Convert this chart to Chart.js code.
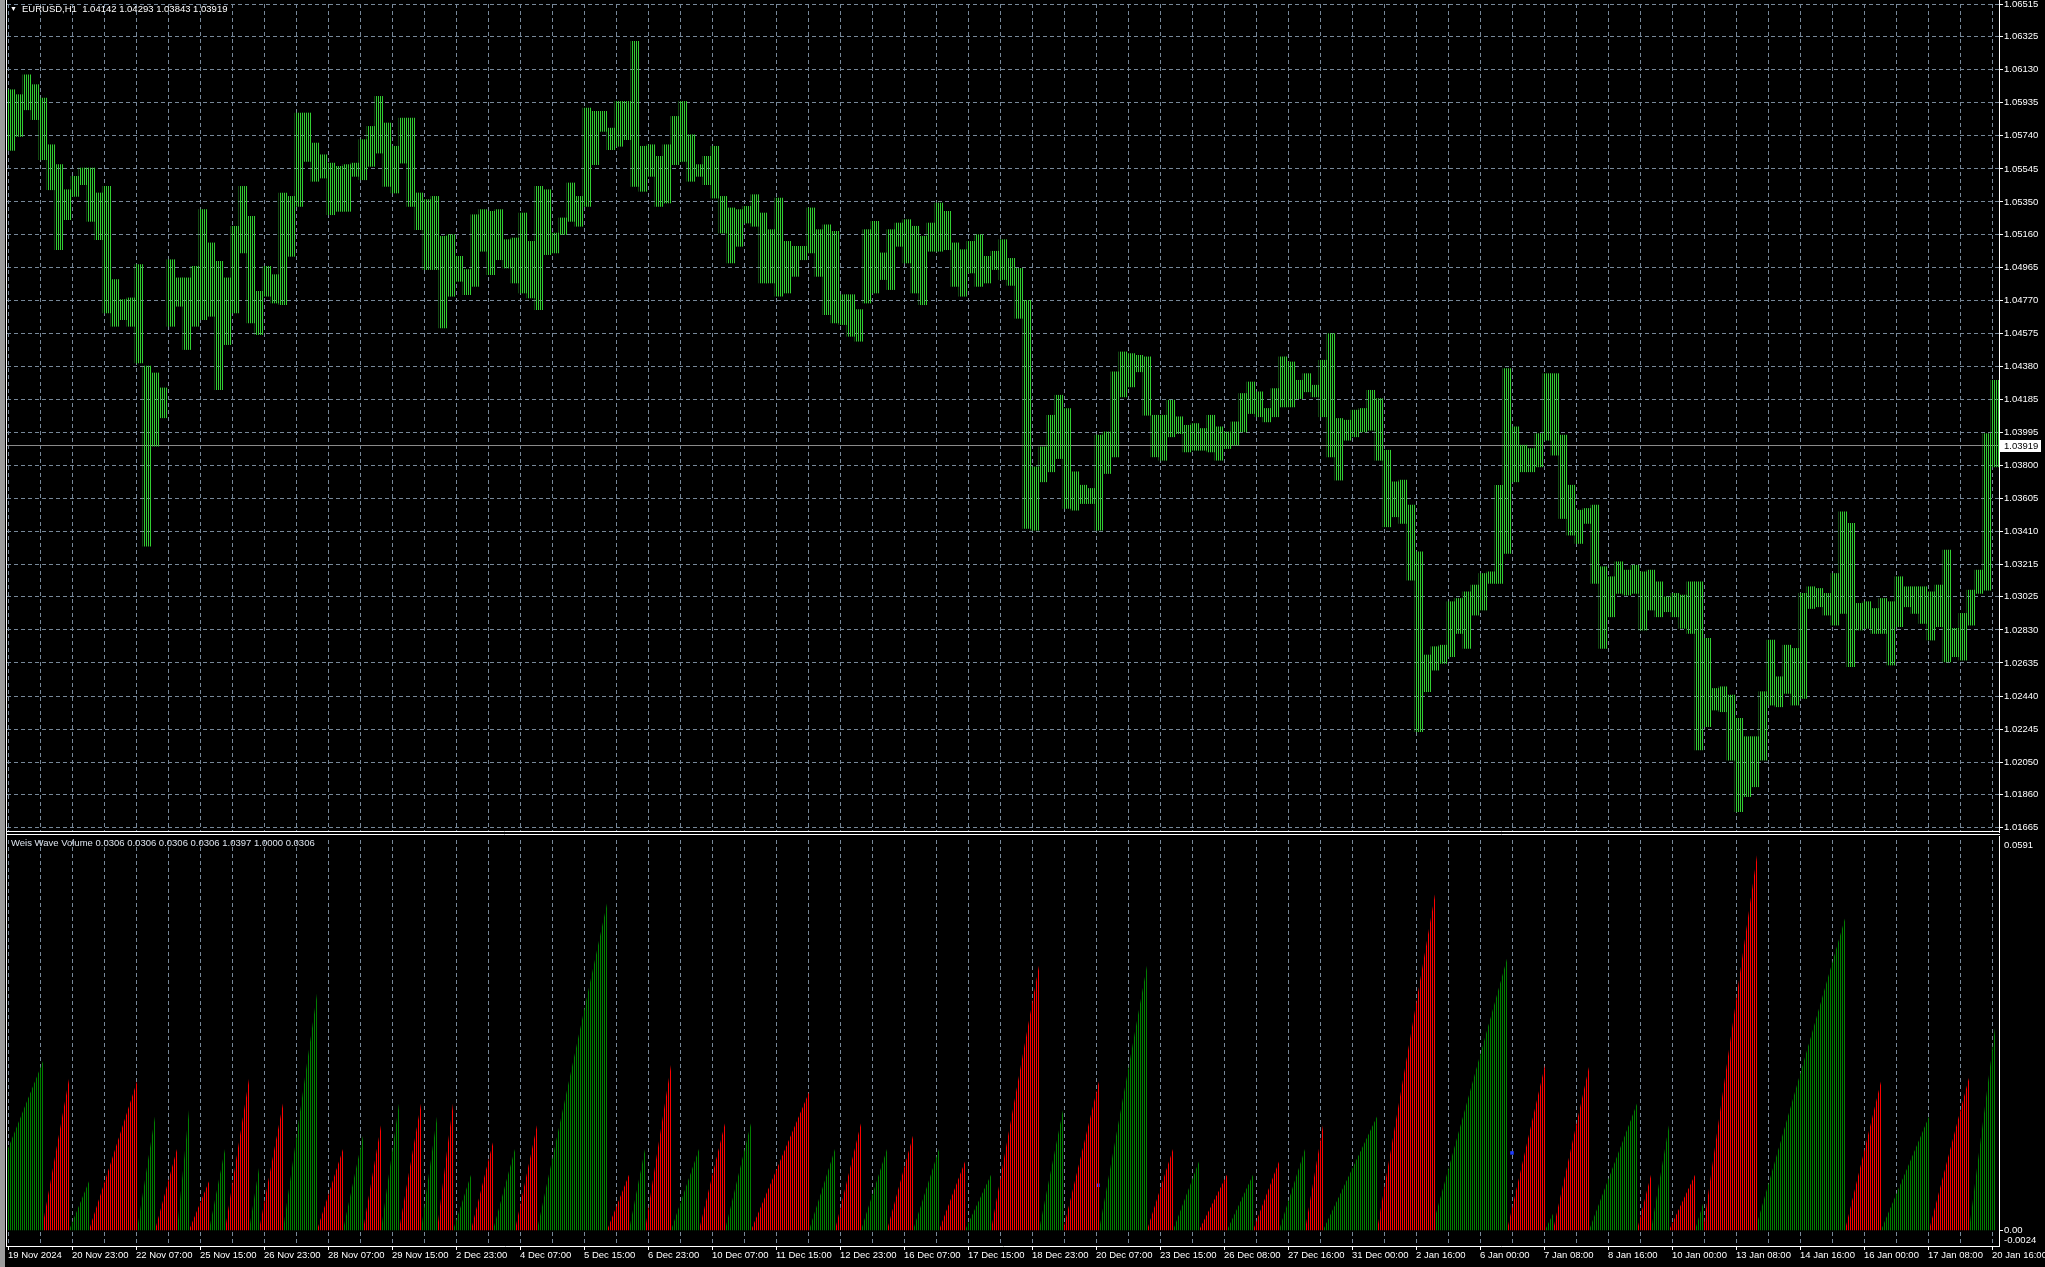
<!DOCTYPE html>
<html>
<head>
<meta charset="utf-8">
<script src="https://cdn.jsdelivr.net/npm/chart.js@4.4.1/dist/chart.umd.min.js"></script>
<style>
  html, body { margin: 0; padding: 0; background: #000; overflow: hidden; }
  #wrap { position: relative; width: 2045px; height: 1267px; background: #000; }
  #strip { position: absolute; left: 0; top: 0; width: 5px; height: 1267px; background: #9c9c9c; }
  #c1 { position: absolute; left: 0; top: 0; }
  #c2 { position: absolute; left: 0; top: 836px; }
  .txt { position: absolute; font: 9.5px "Liberation Sans", Arial, sans-serif; color: #fff; white-space: pre; line-height: 12px; }
</style>
</head>
<body>
<div id="wrap">
  <canvas id="c1" width="2045" height="836"></canvas>
  <canvas id="c2" width="2045" height="431"></canvas>
  <div id="strip"></div>
  <div class="txt" style="left:10px;top:3px;font-size:7px;">&#9660;</div>
  <div class="txt" style="left:22px;top:3px;">EURUSD,H1  1.04142 1.04293 1.03843 1.03919</div>
  <div class="txt" style="left:11px;top:837px;color:#dde4ee;">Weis Wave Volume 0.0306 0.0306 0.0306 0.0306 1.0397 1.0000 0.0306</div>
</div>
<script>
// EURUSD H1, one entry per 4 hourly bars: high / low of the group
const groupHours = 4;
const priceHigh = [
  1.06011,1.05982,1.06099,1.06041,1.05962,1.05687,1.05570,1.05422,1.05501,1.05550,
  1.05550,1.05403,1.05442,1.04893,1.04775,1.04785,1.04981,1.04383,1.04343,1.04255,
  1.05010,1.04903,1.04903,1.04971,1.05305,1.05109,1.05001,1.04903,1.05207,1.05442,
  1.05265,1.04824,1.04971,1.04922,1.05403,1.05383,1.05874,1.05874,1.05697,1.05628,
  1.05579,1.05560,1.05570,1.05579,1.05717,1.05795,1.05972,1.05815,1.05678,1.05844,
  1.05844,1.05403,1.05364,1.05383,1.05148,1.05158,1.05030,1.04952,1.05275,1.05305,
  1.05295,1.05305,1.05128,1.05138,1.05285,1.05118,1.05442,1.05422,1.05167,1.05256,
  1.05462,1.05383,1.05903,1.05884,1.05884,1.05785,1.05942,1.05942,1.06296,1.05678,
  1.05687,1.05619,1.05687,1.05854,1.05942,1.05746,1.05570,1.05619,1.05678,1.05383,
  1.05315,1.05305,1.05324,1.05393,1.05285,1.05187,1.05373,1.05118,1.05089,1.05089,
  1.05315,1.05187,1.05216,1.05177,1.04804,1.04804,1.04716,1.05187,1.05236,1.05050,
  1.05187,1.05226,1.05246,1.05207,1.05148,1.05226,1.05344,1.05295,1.05109,1.05069,
  1.05118,1.05158,1.05030,1.05060,1.05128,1.05018,1.04959,1.04771,1.03790,1.03908,
  1.04094,1.04212,1.04134,1.03761,1.03682,1.03663,1.03977,1.03996,1.04350,1.04467,
  1.04457,1.04447,1.04438,1.04094,1.04094,1.04183,1.04085,1.04035,1.04045,1.04016,
  1.04094,1.04026,1.03996,1.04055,1.04222,1.04290,1.04232,1.04134,1.04251,1.04438,
  1.04408,1.04300,1.04339,1.04271,1.04418,1.04575,1.04075,1.04065,1.04124,1.04134,
  1.04241,1.04192,1.03888,1.03702,1.03712,1.03565,1.03290,1.02682,1.02731,1.02740,
  1.02996,1.03015,1.03054,1.03094,1.03162,1.03172,1.03682,1.04369,1.04026,1.03918,
  1.03898,1.03986,1.04339,1.04339,1.03977,1.03682,1.03535,1.03545,1.03565,1.03202,
  1.03143,1.03231,1.03182,1.03211,1.03172,1.03182,1.03113,1.03025,1.03045,1.03035,
  1.03113,1.03113,1.02780,1.02485,1.02495,1.02446,1.02309,1.02201,1.02201,1.02466,
  1.02770,1.02554,1.02740,1.02721,1.03045,1.03084,1.03074,1.03045,1.03162,1.03525,
  1.03457,1.02986,1.02996,1.02956,1.03015,1.02996,1.03143,1.03084,1.03084,1.03084,
  1.03054,1.03094,1.03300,1.02839,1.02927,1.03064,1.03182,1.03986,1.04300
];
const priceLow = [
  1.05654,1.05736,1.05893,1.05835,1.05599,1.05422,1.05069,1.05246,1.05383,1.05452,
  1.05236,1.05128,1.04697,1.04618,1.04657,1.04618,1.04402,1.03323,1.03912,1.04079,
  1.04618,1.04736,1.04481,1.04618,1.04657,1.04677,1.04245,1.04510,1.04697,1.05050,
  1.04638,1.04569,1.04795,1.04755,1.04745,1.05030,1.05324,1.05589,1.05472,1.05491,
  1.05275,1.05295,1.05295,1.05501,1.05481,1.05560,1.05638,1.05442,1.05403,1.05579,
  1.05324,1.05187,1.04952,1.04952,1.04608,1.04795,1.04883,1.04804,1.04853,1.05060,
  1.04922,1.05010,1.04961,1.04873,1.04814,1.04785,1.04716,1.05040,1.05050,1.05158,
  1.05236,1.05207,1.05324,1.05570,1.05766,1.05658,1.05678,1.05717,1.05442,1.05413,
  1.05501,1.05324,1.05344,1.05570,1.05589,1.05472,1.05501,1.05452,1.05373,1.05167,
  1.04991,1.05089,1.05226,1.05207,1.04873,1.04873,1.04795,1.04814,1.04912,1.05010,
  1.05050,1.04912,1.04687,1.04638,1.04628,1.04559,1.04530,1.04755,1.04814,1.04893,
  1.04834,1.05089,1.04991,1.04814,1.04745,1.05060,1.05060,1.05069,1.04853,1.04795,
  1.04932,1.04853,1.04873,1.04952,1.04893,1.04859,1.04665,1.03427,1.03417,1.03702,
  1.03761,1.03839,1.03545,1.03535,1.03574,1.03574,1.03417,1.03751,1.03849,1.04202,
  1.04261,1.04350,1.04094,1.03849,1.03829,1.03967,1.03986,1.03878,1.03888,1.03888,
  1.03878,1.03829,1.03898,1.03918,1.03996,1.04104,1.04085,1.04055,1.04085,1.04143,
  1.04143,1.04192,1.04232,1.04202,1.04085,1.03849,1.03712,1.03947,1.03967,1.03996,
  1.04006,1.03829,1.03437,1.03496,1.03457,1.03123,1.02230,1.02466,1.02593,1.02633,
  1.02672,1.02809,1.02721,1.02917,1.02947,1.03104,1.03104,1.03280,1.03702,1.03761,
  1.03761,1.03790,1.03947,1.03859,1.03486,1.03388,1.03339,1.03457,1.03104,1.02721,
  1.02907,1.03045,1.03035,1.03045,1.02829,1.02947,1.02907,1.02937,1.02907,1.02839,
  1.02809,1.02123,1.02260,1.02358,1.02348,1.02063,1.01759,1.01848,1.01906,1.02063,
  1.02387,1.02377,1.02456,1.02387,1.02427,1.02956,1.02966,1.02917,1.02858,1.02927,
  1.02613,1.02829,1.02839,1.02809,1.02809,1.02623,1.02849,1.02966,1.02927,1.02868,
  1.02770,1.02849,1.02642,1.02672,1.02652,1.02858,1.03045,1.03064,1.03790
];
const lastPrice = 1.03919;

const priceTicks = ['1.06515','1.06325','1.06130','1.05935','1.05740','1.05545','1.05350','1.05160',
  '1.04965','1.04770','1.04575','1.04380','1.04185','1.03995','1.03800','1.03605','1.03410','1.03215',
  '1.03025','1.02830','1.02635','1.02440','1.02245','1.02050','1.01860','1.01665'];

const xLabels = ['19 Nov 2024','20 Nov 23:00','22 Nov 07:00','25 Nov 15:00','26 Nov 23:00','28 Nov 07:00',
  '29 Nov 15:00','2 Dec 23:00','4 Dec 07:00','5 Dec 15:00','6 Dec 23:00','10 Dec 07:00','11 Dec 15:00',
  '12 Dec 23:00','16 Dec 07:00','17 Dec 15:00','18 Dec 23:00','20 Dec 07:00','23 Dec 15:00','26 Dec 08:00',
  '27 Dec 16:00','31 Dec 00:00','2 Jan 16:00','6 Jan 00:00','7 Jan 08:00','8 Jan 16:00','10 Jan 00:00',
  '13 Jan 08:00','14 Jan 16:00','16 Jan 00:00','17 Jan 08:00','20 Jan 16:00'];

// Weis waves: first bar, last bar, volume on the first bar, cumulative volume on the last bar, 1 = up wave
const waveStart = [0,18,31,41,65,74,85,91,101,109,121,126,138,155,168,178,187,196,207,215,223,232,243,254,265,
  300,311,319,332,346,359,372,401,414,427,440,453,466,479,492,516,528,546,570,583,596,610,623,636,649,658,
  685,714,750,769,773,791,815,822,831,844,848,875,919,937,961,981];
const waveEnd = [17,30,40,64,73,84,90,100,108,120,125,137,154,167,177,186,195,206,214,222,231,242,253,264,299,
  310,318,331,345,358,371,400,413,426,439,452,465,478,491,515,527,545,569,582,595,609,622,635,648,657,684,
  713,749,768,772,790,814,821,830,843,847,874,918,936,960,980,993];
const waveFirst = [0.0120,0.0010,0,0,0,0,0,0,0,0,0,0,0,0,0,0,0,0,0,0,0,0,0,0,0,0,0,0,0,0,0,0,0,0,0,0,0,0,0,0,0,0,0,
  0,0,0,0,0,0,0,0,0,0.0020,0,0,0,0,0,0,0,0,0,0.0010,0,0,0,0];
const wavePeak = [0.0256,0.0229,0.0074,0.0225,0.0172,0.0123,0.0182,0.0074,0.0123,0.0229,0.0094,0.0192,0.0358,
  0.0123,0.0143,0.0159,0.0192,0.0192,0.0172,0.0192,0.0084,0.0133,0.0123,0.0159,0.0495,0.0084,0.0123,0.0250,
  0.0123,0.0162,0.0162,0.0209,0.0123,0.0162,0.0123,0.0143,0.0123,0.0104,0.0084,0.0401,0.0182,0.0225,0.0401,
  0.0123,0.0104,0.0084,0.0084,0.0104,0.0123,0.0159,0.0172,0.0509,0.0411,0.0250,0.0025,0.0247,0.0192,0.0084,
  0.0159,0.0084,0.0040,0.0568,0.0472,0.0225,0.0172,0.0231,0.0306];
const waveUp = [1,0,1,0,1,0,1,0,1,0,1,0,1,0,1,0,1,0,1,0,1,0,1,0,1,0,1,0,1,0,1,0,1,0,1,0,1,0,1,0,1,0,1,0,1,0,
  1,0,1,0,1,0,1,0,1,0,1,0,1,0,1,0,1,0,1,0,1];
// neutral (blue) marks of the indicator
const markBar = [545, 752];
const markValue = [0.0068, 0.0117];
const volTop = 0.0591, volBottom = -0.0024;

// ---------------------------------------------------------------
Chart.defaults.font.family = '"Liberation Sans", Arial, sans-serif';
Chart.defaults.font.size = 9.5;
Chart.defaults.color = '#ffffff';

var gridColor = '#778899';
var xMin = -0.5, xMax = 995.5;   // 2 px per hourly bar

function stripes(ctx, color) {
  var tile = document.createElement('canvas');
  tile.width = 2; tile.height = 1;
  var t = tile.getContext('2d');
  t.fillStyle = color;
  t.fillRect(0, 0, 1, 1);
  return ctx.createPattern(tile, 'repeat');
}

function gridTicks(scale) {
  var t = [];
  for (var v = 0; v <= 992; v += 16) t.push({ value: v });
  scale.ticks = t;
}

var frameTop = {
  id: 'frameTop',
  beforeDatasetsDraw: function (chart) {
    var c = chart.ctx, a = chart.chartArea;
    var y = Math.round(chart.scales.y.getPixelForValue(lastPrice)) + 0.5;
    c.save();
    c.strokeStyle = '#8a8a8a'; c.lineWidth = 1;
    c.beginPath(); c.moveTo(a.left, y); c.lineTo(a.right, y); c.stroke();
    c.restore();
  },
  afterDraw: function (chart) {
    var c = chart.ctx;
    c.save();
    c.strokeStyle = '#ffffff'; c.lineWidth = 1;
    c.beginPath();
    c.moveTo(6.5, 0); c.lineTo(6.5, 836);
    c.moveTo(1999.5, 0); c.lineTo(1999.5, 832);
    c.moveTo(6, 831.5); c.lineTo(2000, 831.5);
    c.moveTo(6, 834.5); c.lineTo(2000, 834.5);
    c.stroke();
    var y = Math.round(chart.scales.y.getPixelForValue(lastPrice));
    c.fillStyle = '#ffffff';
    c.fillRect(2000, y - 5, 41, 12);
    c.fillStyle = '#000000';
    c.font = '9.5px "Liberation Sans", Arial, sans-serif';
    c.textBaseline = 'middle';
    c.fillText(lastPrice.toFixed(5), 2004, y + 1);
    c.restore();
  }
};

var frameBottom = {
  id: 'frameBottom',
  afterDraw: function (chart) {
    var c = chart.ctx;
    c.save();
    c.strokeStyle = '#ffffff'; c.lineWidth = 1;
    c.beginPath();
    c.moveTo(6.5, 0); c.lineTo(6.5, 411);
    c.moveTo(1999.5, 0); c.lineTo(1999.5, 411);
    c.stroke();
    c.restore();
  }
};

// price panel
var ctx1 = document.getElementById('c1').getContext('2d');
var priceData = priceHigh.map(function (h, g) {
  return { x: g * groupHours + (groupHours - 1) / 2, y: [priceLow[g], h] };
});

new Chart(ctx1, {
  type: 'bar',
  data: {
    datasets: [{
      data: priceData,
      backgroundColor: stripes(ctx1, '#32cd32'),
      borderWidth: 0,
      barThickness: groupHours * 2
    }]
  },
  options: {
    responsive: false,
    devicePixelRatio: 1,
    animation: false,
    events: [],
    layout: { padding: { left: 7, top: 4, bottom: 4, right: 0 } },
    plugins: { legend: { display: false }, tooltip: { enabled: false } },
    scales: {
      x: {
        type: 'linear', min: xMin, max: xMax, offset: false,
        grid: { color: gridColor, offset: false, drawTicks: false },
        border: { display: false, dash: [4, 3] },
        ticks: { display: false },
        afterBuildTicks: gridTicks,
        afterFit: function (s) { s.height = 0; s.paddingLeft = 0; s.paddingRight = 0; }
      },
      y: {
        position: 'right', min: 1.016397, max: 1.06516, beginAtZero: false,
        grid: { color: gridColor, tickColor: '#ffffff', tickLength: 4, tickBorderDash: [] },
        border: { display: true, color: '#ffffff', dash: [4, 3] },
        ticks: { color: '#ffffff', padding: 1, autoSkip: false,
                 callback: function (v, i) { return priceTicks[i]; } },
        afterBuildTicks: function (s) { s.ticks = priceTicks.map(function (t) { return { value: parseFloat(t) }; }); },
        afterFit: function (s) { s.width = 46; s.paddingTop = 0; s.paddingBottom = 0; }
      }
    }
  },
  plugins: [frameTop]
});

// Weis Wave Volume panel
var ctx2 = document.getElementById('c2').getContext('2d');
var upPts = [], downPts = [];
waveStart.forEach(function (s, i) {
  var pts = waveUp[i] ? upPts : downPts;
  pts.push({ x: s - 0.5, y: waveFirst[i] }, { x: waveEnd[i] + 0.5, y: wavePeak[i] }, { x: waveEnd[i] + 0.5, y: null });
});
var markPts = markBar.map(function (b, i) { return { x: b, y: markValue[i] }; });

var volShift = (volTop - volBottom) * 5.5 / 410;
var volTickLabels = [volTop.toFixed(4), '0.00', volBottom.toFixed(4)];

new Chart(ctx2, {
  type: 'line',
  data: {
    datasets: [
      { data: upPts, backgroundColor: stripes(ctx2, '#008000'), borderColor: 'transparent', borderWidth: 0,
        pointRadius: 0, fill: 'origin', spanGaps: false, tension: 0 },
      { data: downPts, backgroundColor: stripes(ctx2, '#ff0000'), borderColor: 'transparent', borderWidth: 0,
        pointRadius: 0, fill: 'origin', spanGaps: false, tension: 0 },
      { data: markPts, showLine: false, pointStyle: 'rect', pointRadius: 2.5, pointBorderWidth: 0,
        pointBackgroundColor: '#1e3cff', borderColor: 'transparent' }
    ]
  },
  options: {
    responsive: false,
    devicePixelRatio: 1,
    animation: false,
    events: [],
    layout: { padding: { left: 7, top: 0, bottom: 0, right: 0 } },
    plugins: { legend: { display: false }, tooltip: { enabled: false } },
    scales: {
      x: {
        type: 'linear', min: xMin, max: xMax, offset: false,
        grid: { color: gridColor, offset: false, tickLength: 4, tickBorderDash: [],
                tickColor: function (c) { return c.index % 2 === 0 ? '#ffffff' : 'transparent'; } },
        border: { display: true, color: '#ffffff', dash: [4, 3] },
        ticks: { autoSkip: false, maxRotation: 0, align: 'start', padding: 0, color: '#ffffff',
                 callback: function (v, i) { return i % 2 === 0 ? xLabels[i / 2] : ''; } },
        afterBuildTicks: gridTicks,
        afterFit: function (s) { s.height = 21; s.paddingLeft = 0; s.paddingRight = 0; }
      },
      y: {
        position: 'right', min: volBottom, max: volTop,
        grid: { color: 'transparent', tickLength: 4, tickBorderDash: [],
                tickColor: function (c) { return c.tick && c.tick.value === 0 ? '#ffffff' : 'transparent'; } },
        border: { display: true, color: '#ffffff' },
        ticks: { color: '#ffffff', padding: 1, autoSkip: false,
                 callback: function (v, i) { return volTickLabels[i]; } },
        afterBuildTicks: function (s) {
          s.ticks = [{ value: volTop - volShift }, { value: 0 }, { value: volBottom + volShift }];
        },
        afterFit: function (s) { s.width = 46; s.paddingTop = 0; s.paddingBottom = 0; }
      }
    }
  },
  plugins: [frameBottom]
});
</script>
</body>
</html>
